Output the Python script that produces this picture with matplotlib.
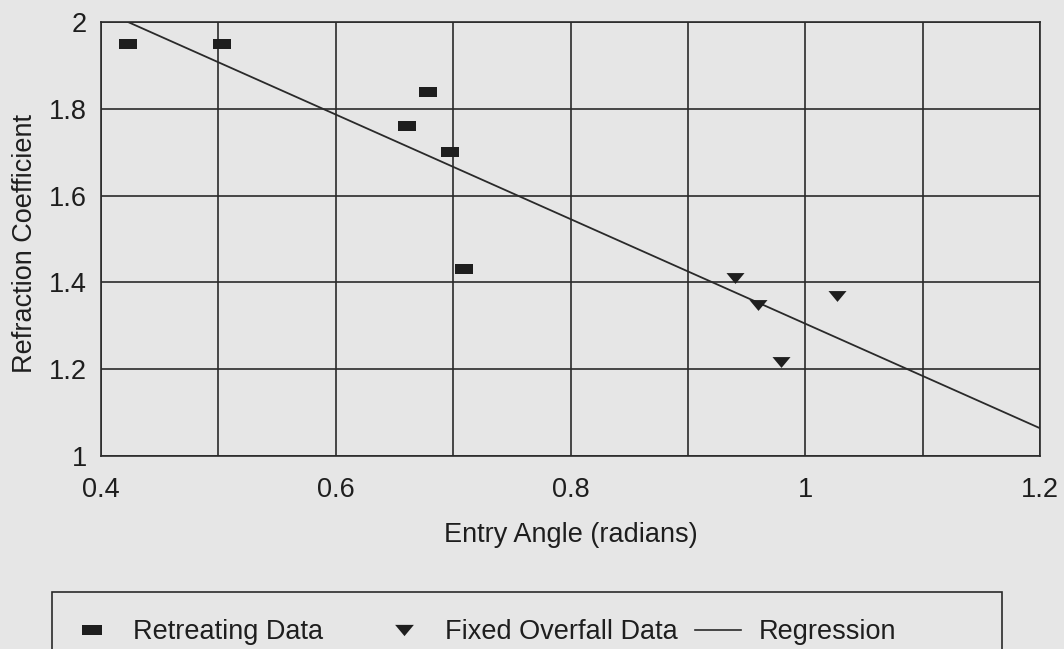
import matplotlib.pyplot as plt
from matplotlib.patches import Rectangle
from matplotlib.lines import Line2D

plt.rcParams['font.family'] = ['Liberation Sans', 'DejaVu Sans']

# ——— DATA ———
retreat_x = [0.423, 0.503, 0.661, 0.679, 0.697, 0.709]
retreat_y = [1.949, 1.949, 1.760, 1.839, 1.701, 1.430]

overfall_x = [0.940, 0.960, 0.979, 1.027]
overfall_y = [1.411, 1.348, 1.217, 1.369]

reg_x = [0.423, 1.200]
reg_y = [2.000, 1.064]

x_ticks = [0.4, 0.6, 0.8, 1.0, 1.2]
x_labels = ['0.4', '0.6', '0.8', '1', '1.2']
y_ticks = [1.0, 1.2, 1.4, 1.6, 1.8, 2.0]
y_labels = ['1', '1.2', '1.4', '1.6', '1.8', '2']

legend_labels = ['Retreating Data', 'Fixed Overfall Data', 'Regression']

BG = '#e6e6e6'
INK = '#1e1e1e'
FS = 19.5

# marker shapes: flat bar and wide down-triangle
bar = [(-1, -0.5), (1, -0.5), (1, 0.5), (-1, 0.5), (-1, -0.5)]
tri = [(-1, 0.6), (1, 0.6), (0, -0.6), (-1, 0.6)]

fig = plt.figure(figsize=(10.64, 6.49), dpi=100, facecolor=BG)
ax = fig.add_axes([101 / 1064, 1 - 456 / 649, 939 / 1064, 434 / 649])
ax.set_facecolor(BG)

ax.plot(reg_x, reg_y, color='#2a2a2a', lw=1.3, zorder=3)
ax.plot(retreat_x, retreat_y, ls='none', marker=bar, ms=13,
        color=INK, mew=0, zorder=4)
ax.plot(overfall_x, overfall_y, ls='none', marker=tri, ms=13,
        color=INK, mew=0, zorder=4)

ax.set_xlim(0.4, 1.2)
ax.set_ylim(1.0, 2.0)

# grid every 0.1 in x, 0.2 in y
ax.set_xticks([0.4 + 0.1 * i for i in range(9)], minor=True)
ax.set_xticks(x_ticks)
ax.set_xticklabels(x_labels)
ax.set_yticks(y_ticks)
ax.set_yticklabels(y_labels)
ax.grid(True, which='both', axis='x', color='#2a2a2a', lw=1.2)
ax.grid(True, which='major', axis='y', color='#2a2a2a', lw=1.2)
ax.tick_params(which='both', length=0, labelsize=FS, labelcolor=INK)
ax.tick_params(axis='x', pad=15)
ax.tick_params(axis='y', pad=10)
for s in ax.spines.values():
    s.set_color('#2a2a2a')
    s.set_linewidth(1.2)

ax.set_xlabel('Entry Angle (radians)', fontsize=FS, color=INK, labelpad=14)
ax.set_ylabel('Refraction Coefficient', fontsize=FS, color=INK)
ax.yaxis.set_label_coords(-63 / 939, 0.49)

# legend box runs off the bottom of the page
fig.patches.append(Rectangle((52 / 1064, -0.1), 950 / 1064, 0.1 + (649 - 592) / 649,
                             transform=fig.transFigure, fill=False,
                             ec='#2a2a2a', lw=1.2))
handles = [
    Line2D([], [], ls='none', marker=bar, ms=14, color=INK, mew=0),
    Line2D([], [], ls='none', marker=tri, ms=13.5, color=INK, mew=0),
    Line2D([], [], color='#2a2a2a', lw=1.2),
]
# one legend per entry so each sits where it does in the scan
for h, lab, x0 in zip(handles, legend_labels, [69, 381, 695]):
    fig.legend([h], [lab], loc='center left',
               bbox_to_anchor=(x0 / 1064, 1 - 632 / 649),
               frameon=False, fontsize=FS, labelcolor=INK,
               borderpad=0, borderaxespad=0,
               handlelength=1.7, handletextpad=0.66)

fig.savefig('out.png', dpi=100, facecolor=BG)
